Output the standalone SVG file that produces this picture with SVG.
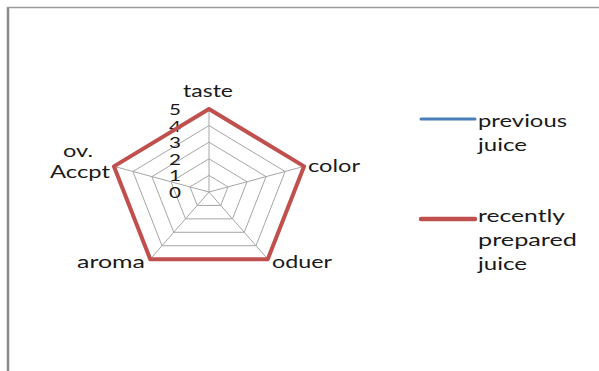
<svg xmlns="http://www.w3.org/2000/svg" width="599" height="371" viewBox="0 0 599 371">
<style>
.t{font-family:Lato,"Liberation Sans",sans-serif;font-size:18px;fill:#1a1a1a}
.d{font-family:Lato,"Liberation Sans",sans-serif;font-size:15.5px;fill:#1a1a1a}
.grid{fill:none;stroke:#a6a6a6;stroke-width:1}
</style>
<rect width="599" height="371" fill="#ffffff"/>
<g id="frame">
<line x1="8" y1="7" x2="8" y2="371" stroke="#8a8a8a" stroke-width="2.5"/>
<line x1="7" y1="7.5" x2="599" y2="7.5" stroke="#9a9a9a" stroke-width="1.5"/>
</g>
<g id="grid">
<polygon class="grid" points="209,175.4 228.02,186.87 220.76,205.43 197.24,205.43 189.98,186.87"/>
<polygon class="grid" points="209,158.8 247.04,181.74 232.51,218.86 185.49,218.86 170.96,181.74"/>
<polygon class="grid" points="209,142.2 266.07,176.61 244.27,232.29 173.73,232.29 151.93,176.61"/>
<polygon class="grid" points="209,125.6 285.09,171.48 256.02,245.72 161.98,245.72 132.91,171.48"/>
<polygon class="grid" points="209,109 304.11,166.35 267.78,259.15 150.22,259.15 113.89,166.35"/>
<line class="grid" x1="209" y1="192" x2="209" y2="109"/>
<line class="grid" x1="209" y1="192" x2="304.11" y2="166.35"/>
<line class="grid" x1="209" y1="192" x2="267.78" y2="259.15"/>
<line class="grid" x1="209" y1="192" x2="150.22" y2="259.15"/>
<line class="grid" x1="209" y1="192" x2="113.89" y2="166.35"/>
</g>
<g id="axis-labels">
<text class="d" x="181" y="115" text-anchor="end" textLength="12" lengthAdjust="spacingAndGlyphs">5</text>
<text class="d" x="181" y="131.6" text-anchor="end" textLength="12" lengthAdjust="spacingAndGlyphs">4</text>
<text class="d" x="181" y="148.2" text-anchor="end" textLength="12" lengthAdjust="spacingAndGlyphs">3</text>
<text class="d" x="181" y="164.8" text-anchor="end" textLength="12" lengthAdjust="spacingAndGlyphs">2</text>
<text class="d" x="181" y="181.4" text-anchor="end" textLength="12" lengthAdjust="spacingAndGlyphs">1</text>
<text class="d" x="181" y="198" text-anchor="end" textLength="12" lengthAdjust="spacingAndGlyphs">0</text>
</g>
<g id="series">
<polygon points="209,109 304.11,166.35 267.78,259.15 150.22,259.15 113.89,166.35" fill="none" stroke="#c0504d" stroke-width="4" stroke-linejoin="round"/>
</g>
<g id="category-labels">
<text class="t" x="208" y="97" text-anchor="middle" textLength="50" lengthAdjust="spacingAndGlyphs">taste</text>
<text class="t" x="308" y="172" textLength="52" lengthAdjust="spacingAndGlyphs">color</text>
<text class="t" x="272" y="268" textLength="60" lengthAdjust="spacingAndGlyphs">oduer</text>
<text class="t" x="77" y="268" textLength="68" lengthAdjust="spacingAndGlyphs">aroma</text>
<text class="t" x="78" y="157" text-anchor="middle" textLength="30" lengthAdjust="spacingAndGlyphs">ov.</text>
<text class="t" x="50" y="178" textLength="60" lengthAdjust="spacingAndGlyphs">Accpt</text>
</g>
<g id="legend">
<line x1="421" y1="119" x2="475" y2="119" stroke="#4a7ebb" stroke-width="3" stroke-linecap="round"/>
<text class="t" x="478" y="127" textLength="89" lengthAdjust="spacingAndGlyphs">previous</text>
<text class="t" x="478" y="151" textLength="49" lengthAdjust="spacingAndGlyphs">juice</text>
<line x1="421" y1="219" x2="475" y2="219" stroke="#c0504d" stroke-width="4.5" stroke-linecap="round"/>
<text class="t" x="478" y="222" textLength="87" lengthAdjust="spacingAndGlyphs">recently</text>
<text class="t" x="478" y="246" textLength="99" lengthAdjust="spacingAndGlyphs">prepared</text>
<text class="t" x="478" y="270" textLength="49" lengthAdjust="spacingAndGlyphs">juice</text>
</g>
</svg>
